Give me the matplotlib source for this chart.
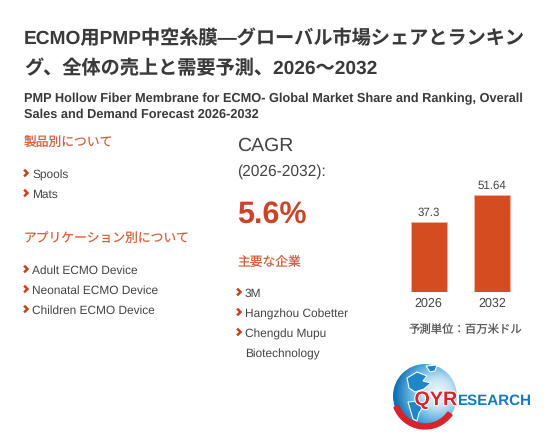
import numpy as np
import matplotlib
matplotlib.use('Agg')
import matplotlib.pyplot as plt
import matplotlib.patheffects as pe
from matplotlib.patches import Circle, Polygon, Wedge

plt.rcParams['font.family'] = ['Liberation Sans', 'Noto Sans CJK JP', 'DejaVu Sans']
plt.rcParams['text.hinting'] = 'no_hinting'

years = ['2026', '2032']
market_size = [37.3, 51.64]
market_labels = ['37.3', '51.64']
types = ['Spools', 'Mats']
applications = ['Adult ECMO Device', 'Neonatal ECMO Device', 'Children ECMO Device']
companies = ['3M', 'Hangzhou Cobetter', 'Chengdu Mupu']

DARK = '#3a3a3a'
GREY = '#444444'
RED = '#c8401a'
RED_LIGHT = '#d2603f'
BAR = '#d44c1f'

fig = plt.figure(figsize=(5.6, 4.45), dpi=100)
ax = fig.add_axes([0, 0, 1, 1])
ax.set_xlim(0, 560)
ax.set_ylim(445, 0)
ax.axis('off')

ax.text(24, 39, 'ECMO用PMP中空糸膜―グローバル市場シェアとランキン', fontsize=13.8, fontweight='bold', color=DARK, va='center')
ax.text(24, 69, 'グ、全体の売上と需要予測、2026～2032', fontsize=13.8, fontweight='bold', color=DARK, va='center')
ax.text(24, 99, 'PMP Hollow Fiber Membrane for ECMO- Global Market Share and Ranking, Overall', fontsize=9.2, fontweight='bold', color=DARK, va='center')
ax.text(24, 115, 'Sales and Demand Forecast 2026-2032', fontsize=9.2, fontweight='bold', color=DARK, va='center')

ax.text(24, 144, '製品別について', fontsize=9.2, color=RED_LIGHT, va='center')
ax.text(24, 240, 'アプリケーション別について', fontsize=9.2, color=RED_LIGHT, va='center')
ax.text(237, 263, '主要な企業', fontsize=9.2, color=RED_LIGHT, va='center')

ax.text(237, 145.5, 'CAGR', fontsize=14, color=GREY, va='center')
ax.text(237, 172, '(2026-2032):', fontsize=11.2, color=GREY, va='center')
ax.text(237, 215, '5.6%', fontsize=22, fontweight='bold', color='#c8452a', va='center')


def chevron_list(items, x, y0):
    for i, item in enumerate(items):
        y = y0 + i * 20
        ax.plot([x, x + 2.5, x], [y - 2.5, y, y + 2.5], color=RED, lw=1.8, solid_joinstyle='miter')
        ax.text(x + 7, y + 2, item, fontsize=8.6, color=GREY, va='center')


chevron_list(types, 25, 173)
chevron_list(applications, 25, 269)
chevron_list(companies, 238, 292)
ax.text(245, 354.5, 'Biotechnology', fontsize=8.6, color=GREY, va='center')

# bars
bx = fig.add_axes([397 / 560, 1 - 292.3 / 445, 127 / 560, 122.3 / 445])
bars = bx.bar(years, market_size, width=0.567, color=BAR, edgecolor='#eeb49e', linewidth=0.6)
bx.set_xlim(-0.5, 1.5)
bx.set_ylim(0, 64.6)
bx.axis('off')
for rect, label, year in zip(bars, market_labels, years):
    cx = rect.get_x() + rect.get_width() / 2
    bx.annotate(label, (cx, rect.get_height()), xytext=(0, 6.5), textcoords='offset points',
                ha='center', va='center', fontsize=8.3, color=GREY)
    bx.annotate(year, (cx, 0), xytext=(0, -8), textcoords='offset points',
                ha='center', va='center', fontsize=9, color=GREY, annotation_clip=False)
ax.text(465, 330, '予測単位：百万米ドル', fontsize=8.2, color='#5a5a5a', ha='center', va='center')

# logo
cx, cy, r = 425, 396, 32
yy, xx = np.mgrid[-1:1:120j, -1:1:120j]
dist = np.sqrt((xx - 0.4) ** 2 + (yy + 0.1) ** 2)
globe = ax.imshow(dist, extent=[cx - r, cx + r, cy + r, cy - r], cmap=matplotlib.colors.LinearSegmentedColormap.from_list(
    'globe', ['#f2f9fc', '#c4e3f3', '#5fb0e0', '#0f6fb5']), vmin=0, vmax=1.35, zorder=2, aspect='auto')
globe.set_clip_path(Circle((cx, cy), r, transform=ax.transData))
ax.set_xlim(0, 560)
ax.set_ylim(445, 0)
land = dict(facecolor='#1f86c8', edgecolor='#f4fafd', linewidth=0.8, zorder=3)
ax.add_patch(Polygon([[407, 378], [417, 372], [427, 376], [423, 381], [431, 383], [424, 389], [415, 392], [409, 388]], **land))
ax.add_patch(Polygon([[426, 366], [437, 365], [435, 371], [430, 372]], **land))
ax.add_patch(Polygon([[408, 402], [418, 401], [423, 407], [419, 413], [417, 421], [413, 419]], **land))
ax.add_patch(Wedge((cx, cy), r + 1, 35, 160, width=5, color='#d8232a', zorder=3))
halo = [pe.withStroke(linewidth=1.5, foreground='white')]
ax.text(414.5, 400, 'QYR', fontsize=14.2, fontweight='bold', color='#d8232a', va='center', zorder=4, path_effects=halo)
ax.text(457.5, 400.5, 'ESEARCH', fontsize=10.9, fontweight='bold', color='#1479bd', va='center', zorder=4)

fig.savefig('out.png', dpi=100)
